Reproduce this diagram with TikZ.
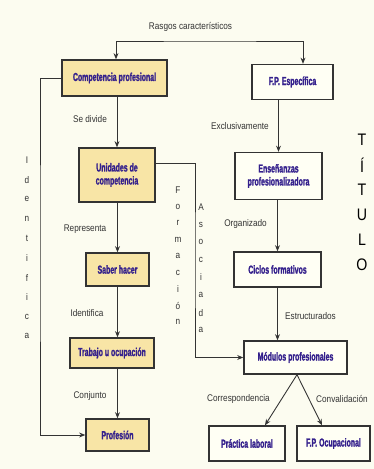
\documentclass[tikz,border=0pt]{standalone}
\usepackage{fontspec}
\usetikzlibrary{arrows.meta}
\newfontfamily\boxfont{Liberation Sans}[FakeStretch=0.6,FakeBold=1.5]
\newfontfamily\lblfont{Liberation Sans}[FakeStretch=0.85]
\definecolor{bgcol}{HTML}{FCFCF0}
\definecolor{ybox}{HTML}{F8E5A6}
\definecolor{wbox}{HTML}{FFFFF4}
\definecolor{txtcol}{HTML}{34208C}
\definecolor{lncol}{HTML}{333333}
\tikzset{
    caja/.style={draw=lncol, line width=0.8pt, inner sep=0pt, align=center,
        font=\boxfont\bfseries\fontsize{6.6}{7.4}\selectfont, text=txtcol},
    cajay/.style={caja, fill=ybox},
    cajaw/.style={caja, fill=wbox},
    lbl/.style={font=\lblfont\fontsize{5.5}{6}\selectfont, text=lncol, inner sep=0pt},
    flecha/.style={draw=lncol, line width=0.5pt, -{Stealth[length=3.5pt,width=2.8pt]}}
}
\begin{document}
\begin{tikzpicture}[x=0.02cm,y=-0.02cm]
        \fill[bgcol] (0,0) rectangle (374,469);
        \useasboundingbox (0,0) rectangle (374,469);
        % cajas
        \node[cajay, minimum width=2.1cm, minimum height=0.72cm] (comp) at (114.5,78) {Competencia profesional};
        \node[cajaw, minimum width=1.62cm, minimum height=0.7cm] (fpe) at (292.5,82) {F.P. Específica};
        \node[cajay, minimum width=1.52cm, minimum height=1.08cm] (unid) at (117,175) {Unidades de\\competencia};
        \node[cajaw, minimum width=1.74cm, minimum height=0.94cm] (ense) at (278.5,176) {Enseñanzas\\profesionalizadora};
        \node[cajay, minimum width=1.26cm, minimum height=0.66cm] (saber) at (117.5,269.5) {Saber hacer};
        \node[cajaw, minimum width=1.74cm, minimum height=0.7cm] (ciclos) at (277.5,269.5) {Ciclos formativos};
        \node[cajay, minimum width=1.68cm, minimum height=0.6cm] (trabajo) at (112,353) {Trabajo u ocupación};
        \node[cajaw, minimum width=2.06cm, minimum height=0.66cm] (modulos) at (295.5,357.5) {Módulos profesionales};
        \node[cajay, minimum width=1.26cm, minimum height=0.64cm] (profesion) at (117.5,435) {Profesión};
        \node[cajaw, minimum width=1.52cm, minimum height=0.7cm] (practica) at (247,443.5) {Práctica laboral};
        \node[cajaw, minimum width=1.46cm, minimum height=0.7cm] (fpo) at (333.5,443.5) {F.P. Ocupacional};

        % conectores
        \coordinate (rasgos) at (210,41);
        \coordinate (ident) at (40,250);
        \coordinate (form) at (195,260);
        \draw[flecha, {Stealth[length=3.5pt,width=2.8pt]}-{Stealth[length=3.5pt,width=2.8pt]}] ([xshift=0.03cm]comp.north) |- (rasgos) -| ([xshift=0.21cm]fpe.north);
        \draw[flecha] (unid.north |- comp.south) -- (unid.north);
        \draw[flecha] (saber.north |- unid.south) -- (saber.north);
        \draw[flecha] (saber.south) -- (saber.south |- trabajo.north);
        \draw[flecha] (profesion.north |- trabajo.south) -- (profesion.north);
        \draw[flecha] (comp.west) -| (ident) |- (profesion.west);
        \draw[flecha] ([yshift=0.24cm]unid.east) -| (form) |- (modulos.west);
        \draw[flecha] (ense.north |- fpe.south) -- (ense.north);
        \draw[flecha] (ciclos.north |- ense.south) -- (ciclos.north);
        \draw[flecha] (ciclos.south) -- (ciclos.south |- modulos.north);
        \draw[flecha] ([xshift=0.03cm]modulos.south) -- ([xshift=0.36cm]practica.north);
        \draw[flecha] ([xshift=0.03cm]modulos.south) -- ([xshift=-0.23cm]fpo.north);

        % etiquetas
        \node[lbl] (l-rasgos) at (190.5,27) {Rasgos característicos};
        \node[lbl] (l-divide) at (90,119) {Se divide};
        \node[lbl] (l-exclu) at (240,126) {Exclusivamente};
        \node[lbl] (l-repre) at (85,229) {Representa};
        \node[lbl] (l-organ) at (245.5,224) {Organizado};
        \node[lbl] (l-identi) at (87,313) {Identifica};
        \node[lbl] (l-estru) at (310.5,316) {Estructurados};
        \node[lbl] (l-conj) at (90,396) {Conjunto};
        \node[lbl] (l-corr) at (238.5,399) {Correspondencia};
        \node[lbl] (l-conv) at (342,399) {Convalidación};

        % textos verticales
        \foreach \l [count=\i] in {I,d,e,n,t,i,f,i,c,a}
            \node[lbl] (id\i) at (27,{160+19.6*(\i-1)}) {\l};
        \foreach \l [count=\i] in {F,o,r,m,a,c,i,ó,n}
            \node[lbl] (fo\i) at (178,{190+16.5*(\i-1)}) {\l};
        \foreach \l [count=\i] in {A,s,o,c,i,a,d,a}
            \node[lbl] (as\i) at (201,{207+17.6*(\i-1)}) {\l};
        \foreach \l [count=\i] in {T,Í,T,U,L,O}
            \node[lbl, font=\lblfont\fontsize{9.5}{10}\selectfont, text=black] (ti\i) at (362,{140+25*(\i-1)}) {\l};
    \end{tikzpicture}
\end{document}
